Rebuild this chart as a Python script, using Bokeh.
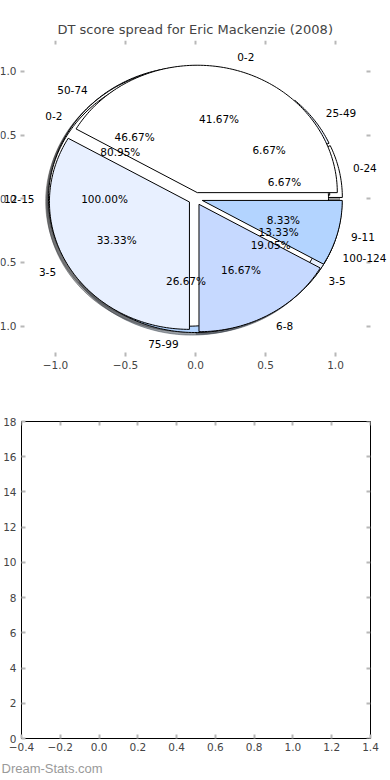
import numpy as np
from bokeh.plotting import figure
from bokeh.layouts import column
from bokeh.models import (ColumnDataSource, LabelSet, FixedTicker, LinearAxis,
                          Range1d, Title)
from bokeh.core.properties import value
from bokeh.embed import file_html
from bokeh.resources import INLINE

# ---------------- data ----------------
TITLE = "DT score spread for Eric Mackenzie (2008)"
WATERMARK = "Dream-Stats.com"

range_labels = ["0-24", "25-49", "50-74", "75-99", "100-124"]
range_counts = [1, 1, 7, 4, 2]
margin_labels = ["0-2", "3-5"]
margin_counts = [17, 4]
top_labels = ["12-15"]
top_counts = [1]
spread_labels = ["0-2", "3-5", "6-8", "9-11"]
spread_counts = [5, 4, 2, 1]

wedge_colors = ["#ffffff", "#e8f0ff", "#c6d9ff", "#b3d4ff", "#a3c8ff"]

pie_ticks = [-1.0, -0.5, 0.0, 0.5, 1.0]
pie_tick_labels = ["\u22121.0", "\u22120.5", "0.0", "0.5", "1.0"]
bar_x_ticks = [-0.4, -0.2, 0.0, 0.2, 0.4, 0.6, 0.8, 1.0, 1.2, 1.4]
bar_x_tick_labels = ["\u22120.4", "\u22120.2", "0.0", "0.2", "0.4",
                     "0.6", "0.8", "1.0", "1.2", "1.4"]
bar_y_ticks = [0, 2, 4, 6, 8, 10, 12, 14, 16, 18]
bar_y_tick_labels = ["0", "2", "4", "6", "8", "10", "12", "14", "16", "18"]

# ---------------- style ----------------
FONT = "DejaVu Sans"
TICK_FS = "10.5px"
TICK_COLOR = "#b8b8b8"
EXPLODE = 0.05
LABEL_DIST = 1.1
PCT_DIST = 0.6
SHADOW_OFF = -0.02
PIE_X = (-1.3929, 1.3929)
PIE_Y = (-1.238, 1.2425)
PIE_BOX = 1.25

pies = [(range_labels, range_counts),
        (margin_labels, margin_counts),
        (top_labels, top_counts),
        (spread_labels, spread_counts)]


def shade(hexcol):
    h = hexcol.lstrip("#")
    r, g, b = (int(h[i:i + 2], 16) for i in (0, 2, 4))
    return "#%02x%02x%02x" % (int(r * 0.3), int(g * 0.3), int(b * 0.3))


w_xs, w_ys, w_fill = [], [], []
s_xs, s_ys, s_fill = [], [], []
lab_l = {"x": [], "y": [], "text": []}
lab_r = {"x": [], "y": [], "text": []}
pct = {"x": [], "y": [], "text": []}

for labels, counts in pies:
    total = float(sum(counts))
    t1 = 0.0
    for lab, c, col in zip(labels, counts, wedge_colors):
        frac = c / total
        t2 = t1 + frac
        tm = np.pi * (t1 + t2)
        cx, cy = EXPLODE * np.cos(tm), EXPLODE * np.sin(tm)
        ang = np.linspace(2 * np.pi * t1, 2 * np.pi * t2, int(300 * frac) + 3)
        xs = list(cx + np.cos(ang))
        ys = list(cy + np.sin(ang))
        if frac < 0.999999:
            xs = [cx] + xs
            ys = [cy] + ys
        w_xs.append(xs); w_ys.append(ys); w_fill.append(col)
        s_xs.append([v + SHADOW_OFF for v in xs])
        s_ys.append([v + SHADOW_OFF for v in ys])
        s_fill.append(shade(col))
        xt = cx + LABEL_DIST * np.cos(tm)
        yt = cy + LABEL_DIST * np.sin(tm)
        d = lab_l if xt > 0 else lab_r
        d["x"].append(xt); d["y"].append(yt); d["text"].append(lab)
        pct["x"].append(cx + PCT_DIST * np.cos(tm))
        pct["y"].append(cy + PCT_DIST * np.sin(tm))
        pct["text"].append("%.2f%%" % (100 * frac))
        t1 = t2


def style_axis(ax):
    ax.axis_line_color = None
    ax.major_tick_in = 4
    ax.major_tick_out = 0
    ax.major_tick_line_color = TICK_COLOR
    ax.major_tick_line_width = 2
    ax.minor_tick_line_color = None
    ax.major_label_text_font = FONT
    ax.major_label_text_font_size = TICK_FS
    ax.major_label_standoff = 4


def hide_labels(ax, ticks):
    ax.major_label_overrides = {t: "" for t in ticks}
    ax.major_label_text_color = None
    ax.major_label_standoff = 0


# ---------------- pie figure ----------------
p1 = figure(width=390, height=385, output_backend="svg", toolbar_location=None,
            x_range=Range1d(*PIE_X), y_range=Range1d(*PIE_Y),
            min_border_left=0, min_border_right=0, min_border_top=40,
            min_border_bottom=29)
p1.frame_align = False
p1.outline_line_color = None
p1.grid.visible = False
p1.title.text = TITLE
p1.title.text_font = FONT
p1.title.text_font_size = "13px"
p1.title.text_font_style = "normal"
p1.title.align = "left"
p1.title.offset = 57
p1.title.standoff = 8

p1.patches(s_xs, s_ys, fill_color=s_fill, fill_alpha=0.5, line_color=s_fill,
           line_alpha=0.5, line_width=1)
p1.patches(w_xs, w_ys, fill_color=w_fill, line_color="black", line_width=1)

for d, al in ((lab_l, "left"), (lab_r, "right"), (pct, "center")):
    p1.add_layout(LabelSet(x="x", y="y", text="text",
                           source=ColumnDataSource(d), text_align=al,
                           text_baseline="middle", text_font=value(FONT),
                           text_font_size="10.5px", text_color="black"))

p1.add_layout(LinearAxis(), "right")
p1.add_layout(LinearAxis(), "above")
for ax in p1.axis:
    ax.ticker = FixedTicker(ticks=pie_ticks)
    ax.major_label_overrides = dict(zip(pie_ticks, pie_tick_labels))
    style_axis(ax)
p1.yaxis[0].fixed_location = -PIE_BOX
p1.right[0].fixed_location = PIE_BOX
p1.above[0].fixed_location = PIE_Y[1]
for ax in p1.right + p1.above:
    hide_labels(ax, pie_ticks)

# ---------------- empty bar figure ----------------
p2 = figure(width=390, height=395, output_backend="svg", toolbar_location=None,
            x_range=Range1d(-0.4, 1.4), y_range=Range1d(0, 18),
            min_border_left=20, min_border_right=20, min_border_top=36,
            min_border_bottom=40)
p2.frame_align = False
p2.grid.visible = False
p2.outline_line_color = "black"
p2.outline_line_width = 1
p2.add_layout(LinearAxis(), "right")
p2.add_layout(LinearAxis(), "above")
for ax in p2.xaxis:
    ax.ticker = FixedTicker(ticks=bar_x_ticks)
    ax.major_label_overrides = dict(zip(bar_x_ticks, bar_x_tick_labels))
for ax in p2.yaxis:
    ax.ticker = FixedTicker(ticks=bar_y_ticks)
    ax.major_label_overrides = dict(zip(bar_y_ticks, bar_y_tick_labels))
for ax in p2.axis:
    style_axis(ax)
p2.yaxis[0].major_label_standoff = 5
p2.right[0].fixed_location = 1.4
p2.above[0].fixed_location = 18
hide_labels(p2.right[0], bar_y_ticks)
hide_labels(p2.above[0], bar_x_ticks)

p2.add_layout(Title(text=WATERMARK, align="left", text_color="#9a9a9a",
                    text_font="Liberation Sans", text_font_size="13px",
                    text_font_style="normal", offset=-20), "below")

layout = column(p1, p2)
open("out.html", "w").write(file_html(layout, INLINE))
